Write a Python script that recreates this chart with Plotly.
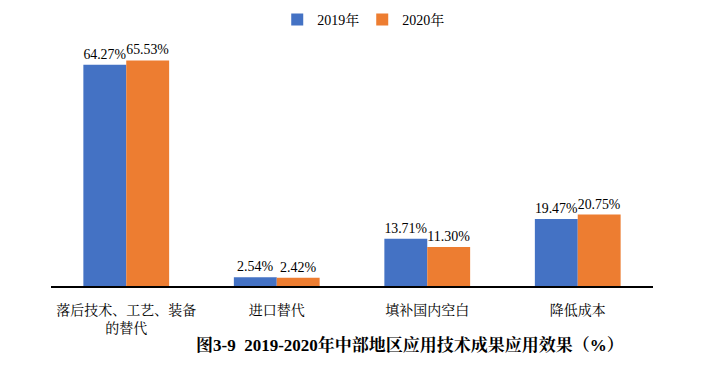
import plotly.graph_objects as go

categories = ["落后技术、工艺、装备<br>的替代", "进口替代", "填补国内空白", "降低成本"]
series_names = ["2019年", "2020年"]
values_2019 = [64.27, 2.54, 13.71, 19.47]
values_2020 = [65.53, 2.42, 11.30, 20.75]
colors = ["#4472C4", "#ED7D31"]
title_text = "<b>图3-9  2019-2020年中部地区应用技术成果应用效果（%）</b>"

FONT = "Liberation Serif, Times New Roman, Noto Serif CJK SC, Noto Sans CJK SC, serif"

fig = go.Figure()
for name, vals, col in zip(series_names, [values_2019, values_2020], colors):
    fig.add_trace(go.Bar(
        x=categories, y=vals, name=name, marker_color=col,
        marker_line_width=0,
        text=[f"{v:.2f}%" for v in vals], textposition="outside",
        textfont=dict(size=14, color="#000000", family=FONT),
        cliponaxis=False,
    ))

fig.update_layout(
    width=714, height=367,
    margin=dict(l=51, r=61, t=45, b=81, autoexpand=False),
    paper_bgcolor="white", plot_bgcolor="white",
    barmode="group", bargap=0.43, bargroupgap=0,
    font=dict(family=FONT, size=14, color="#000000"),
    showlegend=True,
    legend=dict(orientation="h", x=0.517, xanchor="center",
                yref="container", y=1 - 20 / 367, yanchor="middle",
                font=dict(size=14, family=FONT), itemwidth=30, tracegroupgap=0,
                entrywidth=40, entrywidthmode="pixels"),
    xaxis=dict(showline=True, linecolor="#000000", linewidth=1.5, ticks="",
               ticklabelstandoff=10,
               tickfont=dict(size=14, color="#000000", family=FONT), showgrid=False),
    yaxis=dict(range=[0, 70], visible=False, showgrid=False),
    annotations=[dict(text=title_text, xref="paper", yref="paper", x=0.597, y=-0.245,
                      xanchor="center", yanchor="middle", showarrow=False,
                      font=dict(size=17, family=FONT, color="#000000"))],
)

fig.write_html("out.html", config={"displayModeBar": False},
               post_script="document.body.style.margin='0px';")
